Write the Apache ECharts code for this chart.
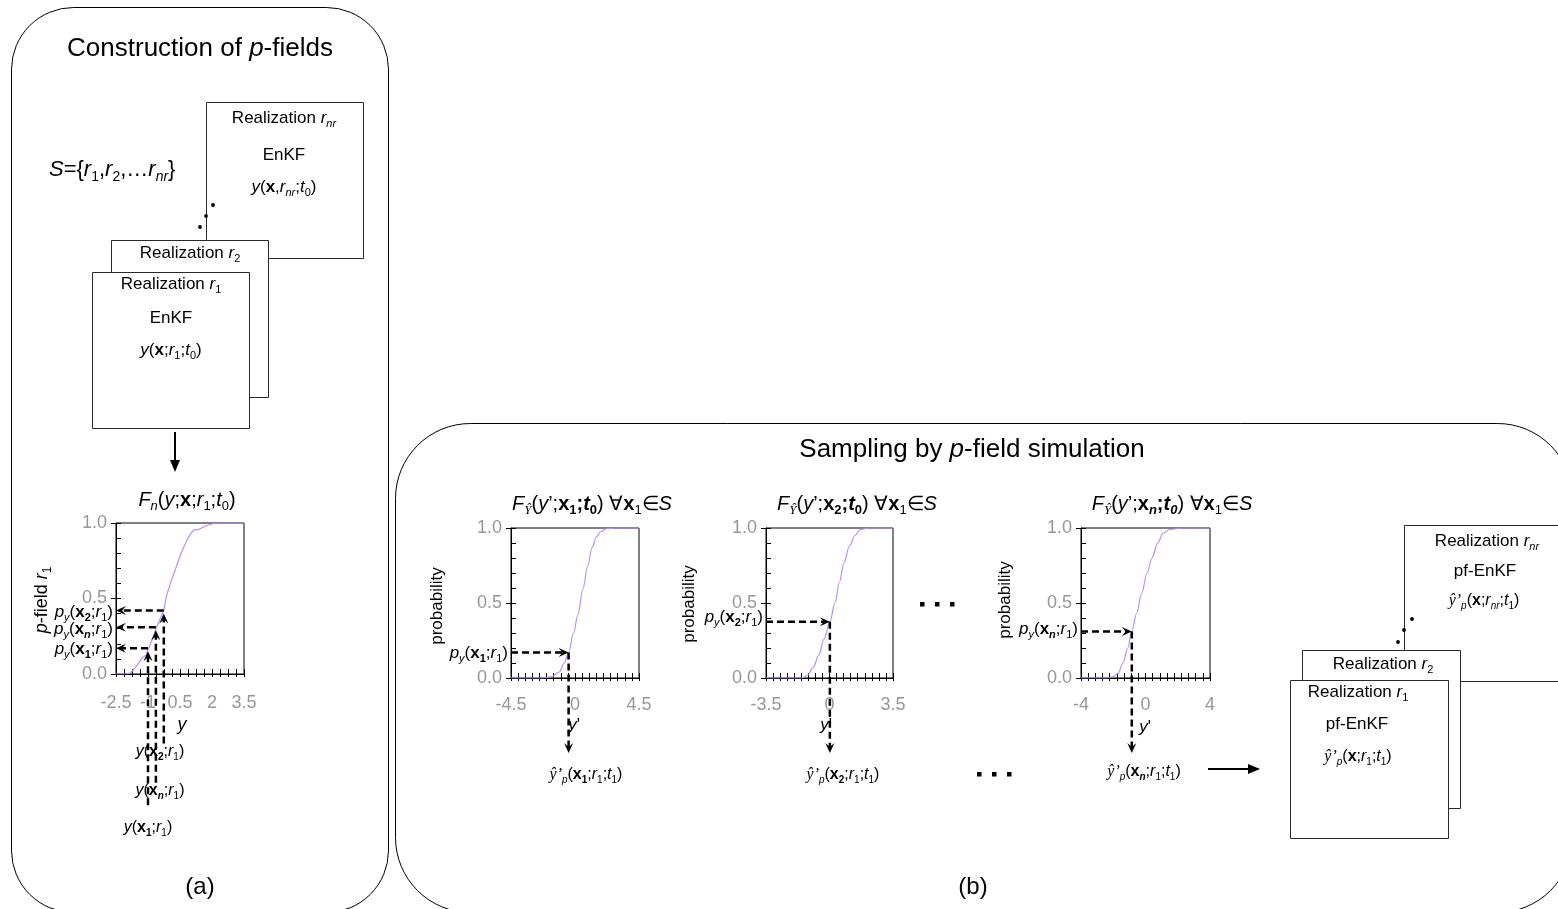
<!DOCTYPE html>
<html><head><meta charset="utf-8">
<script src="https://cdn.jsdelivr.net/npm/echarts@6/dist/echarts.min.js"></script>
<style>html,body{margin:0;padding:0;background:#fff}#c{width:1558px;height:909px}</style>
</head><body><div id="c"></div>
<script>
// ---------------- DATA ----------------
// (a) empirical CDF F_n(y;x;r1;t0)
const leftY = [-2.5,-1.95,-1.8,-1.6,-1.4,-1.25,-1.1,-1.0,-0.8,-0.63,-0.45,-0.26,-0.13,0.05,0.3,0.55,0.8,1.0,1.15,1.4,1.55,1.7,1.9,2.2,3.5];
const leftP = [0,0,0.01,0.04,0.08,0.11,0.125,0.16,0.23,0.30,0.36,0.42,0.52,0.6,0.7,0.8,0.88,0.93,0.955,0.958,0.97,0.98,0.99,1.0,1.0];
// (b) CDFs F_Y(y';x_i;t0)
const c1Y = [-4.5,-2.2,-1.6,-1.1,-0.75,-0.45,-0.1,0.2,0.55,0.9,1.2,1.5,1.8,2.2,2.9,4.5];
const c1P = [0,0,0.01,0.04,0.1,0.17,0.3,0.42,0.59,0.75,0.87,0.94,0.975,0.995,1,1];
const c2Y = [-3.5,-1.5,-1.2,-0.9,-0.6,-0.3,0.02,0.3,0.55,0.8,1.1,1.4,1.7,2.2,3.5];
const c2P = [0,0,0.02,0.07,0.15,0.26,0.375,0.5,0.64,0.77,0.88,0.95,0.99,1,1];
const c3Y = [-4,-2.4,-2.0,-1.7,-1.4,-1.1,-0.85,-0.55,-0.25,0.1,0.4,0.75,1.1,1.5,2.3,4];
const c3P = [0,0,0.01,0.03,0.1,0.2,0.31,0.43,0.56,0.7,0.8,0.9,0.965,0.99,1,1];
// tick labels
const leftTicks = [-2.5,-1,0.5,2,3.5];
const ticks1 = [-4.5,0,4.5];
const ticks2 = [-3.5,0,3.5];
const ticks3 = [-4,0,4];
const probTicks = [0,0.5,1];
// p-field lookups (a): y(x_i;r1) values and their probabilities
const leftArrowX = [-1.0,-0.63,-0.26];
const leftArrowP = [0.17,0.31,0.42];
const leftArrowFoot = [-0.87,-0.72,-0.46];
// p-field sampling (b): probability -> y'
const rightArrowX = [-0.45,0.02,-0.85];
const rightArrowP = [0.17,0.375,0.31];
const rightArrowFoot = -0.5;

// ---------------- STYLE ----------------
const FF = '"Liberation Sans", Arial, sans-serif';
const SERIF = '"Liberation Serif", "DejaVu Serif", serif';
const GRAY = '#979797';
const PURPLE = '#b590f4';

function rich(fs){
  const L = Math.round(fs*1.3), s = Math.round(fs*0.65);
  const base = {fontFamily: FF, fontSize: fs, lineHeight: L, fill:'#000'};
  const sub = {fontFamily: FF, fontSize: s, lineHeight: s, verticalAlign:'bottom', fill:'#000'};
  return {
    n: base,
    i: Object.assign({}, base, {fontStyle:'italic'}),
    b: Object.assign({}, base, {fontWeight:'bold'}),
    bi: Object.assign({}, base, {fontWeight:'bold', fontStyle:'italic'}),
    h: Object.assign({}, base, {fontFamily: SERIF, fontStyle:'italic'}),
    s: sub,
    si: Object.assign({}, sub, {fontStyle:'italic'}),
    sb: Object.assign({}, sub, {fontWeight:'bold'}),
    sbi: Object.assign({}, sub, {fontWeight:'bold', fontStyle:'italic'}),
    sh: Object.assign({}, sub, {fontFamily: SERIF, fontStyle:'italic'})
  };
}
function T(x, y, text, fs, align, rot){
  return {type:'text', x:x, y:y, rotation: rot||0, silent:true, z:20,
    style:{text:text, rich:rich(fs), fontFamily:FF, fontSize:fs, fill:'#000',
      align: align||'center', verticalAlign:'middle'}};
}
function box(x,y,w,h,fill){
  return {type:'rect', shape:{x:x+0.5,y:y+0.5,width:w,height:h}, style:{fill:fill||'#fff', stroke:'#2a2a2a', lineWidth:1}, silent:true, z:5};
}
function dot(cx,cy){ return {type:'circle', shape:{cx:cx,cy:cy,r:1.9}, style:{fill:'#000'}, silent:true, z:6}; }
function sq(x,y){ return {type:'rect', shape:{x:x,y:y,width:4.5,height:4.5}, style:{fill:'#000'}, silent:true, z:6}; }
function steps(a,b,n){ const out=[]; for(let k=0;k<=n;k++) out.push(a+(b-a)*k/n); return out; }

// ---------------- CHART DEFS ----------------
const charts = [
  {box:[116,523,128,151], min:-2.5, max:3.5, labels:leftTicks, minor:steps(-2.5,3.5,16), y:leftY, p:leftP, smooth:false, xMargin:20,
   arrows: leftArrowX.flatMap((x,i)=>[[x,leftArrowFoot[i],x,leftArrowP[i]-0.02],[x,leftArrowP[i],leftTicks[0],leftArrowP[i]]])},
  {box:[511,528,128,150], min:-4.5, max:4.5, labels:ticks1, minor:steps(-4.5,4.5,18), y:c1Y, p:c1P, smooth:0.35, xMargin:18,
   arrows:[[ticks1[0],rightArrowP[0],rightArrowX[0],rightArrowP[0]],[rightArrowX[0],rightArrowP[0],rightArrowX[0],rightArrowFoot]]},
  {box:[766,528,127,150], min:-3.5, max:3.5, labels:ticks2, minor:steps(-3.5,3.5,18), y:c2Y, p:c2P, smooth:0.35, xMargin:18,
   arrows:[[ticks2[0],rightArrowP[1],rightArrowX[1],rightArrowP[1]],[rightArrowX[1],rightArrowP[1],rightArrowX[1],rightArrowFoot]]},
  {box:[1081,528,129,150], min:-4, max:4, labels:ticks3, minor:steps(-4,4,18), y:c3Y, p:c3P, smooth:0.35, xMargin:18,
   arrows:[[ticks3[0],rightArrowP[2],rightArrowX[2],rightArrowP[2]],[rightArrowX[2],rightArrowP[2],rightArrowX[2],rightArrowFoot]]}
];

function renderArrow(params, api){
  const a = api.coord([api.value(0), api.value(1)]);
  const b = api.coord([api.value(2), api.value(3)]);
  const dx=b[0]-a[0], dy=b[1]-a[1], len=Math.hypot(dx,dy)||1;
  const ux=dx/len, uy=dy/len, nx=-uy, ny=ux;
  const L=10, W=4.5;
  const back=[b[0]-ux*L, b[1]-uy*L];
  const notch=[b[0]-ux*L*0.6, b[1]-uy*L*0.6];
  return {type:'group', children:[
    {type:'line', shape:{x1:a[0],y1:a[1],x2:notch[0],y2:notch[1]}, style:{stroke:'#000', lineWidth:2.5, lineDash:[7,4]}},
    {type:'polygon', shape:{points:[[b[0],b[1]],[back[0]+nx*W,back[1]+ny*W],notch,[back[0]-nx*W,back[1]-ny*W]]}, style:{fill:'#000'}}
  ]};
}

const grids=[], xAxes=[], yAxes=[], series=[];
charts.forEach((c,gi)=>{
  grids.push({left:c.box[0], top:c.box[1], width:c.box[2], height:c.box[3], show:true, borderColor:'#000', borderWidth:1,
    backgroundColor:'transparent', containLabel:false, outerBoundsMode:'none'});
  xAxes.push({gridIndex:gi, type:'value', position:'bottom', min:c.min, max:c.max,
    axisLine:{show:true, onZero:false, lineStyle:{color:'#000', width:1}},
    axisTick:{show:true, customValues:c.minor, inside:false, length:3, lineStyle:{color:'#000'}},
    axisLabel:{show:true, customValues:c.labels, color:GRAY, fontSize:18, fontFamily:FF, margin:c.xMargin},
    splitLine:{show:false}});
  xAxes.push({gridIndex:gi, type:'value', position:'bottom', min:c.min, max:c.max,
    axisLine:{show:false, onZero:false},
    axisTick:{show:true, customValues:c.minor, inside:true, length:5, lineStyle:{color:'#000'}},
    axisLabel:{show:false}, splitLine:{show:false}});
  yAxes.push({gridIndex:gi, type:'value', position:'left', min:0, max:1,
    axisLine:{show:true, onZero:false, lineStyle:{color:'#000', width:1}},
    axisTick:{show:true, customValues:probTicks, inside:false, length:5, lineStyle:{color:'#000'}},
    axisLabel:{show:true, customValues:probTicks, color:GRAY, fontSize:18, fontFamily:FF, margin:9, formatter:v=>Number(v).toFixed(1)},
    splitLine:{show:false}});
  yAxes.push({gridIndex:gi, type:'value', position:'left', min:0, max:1, interval:0.1,
    axisLine:{show:false, onZero:false},
    axisTick:{show:true, inside:true, length:5, lineStyle:{color:'#000'}},
    axisLabel:{show:false}, splitLine:{show:false}});
  series.push({type:'line', xAxisIndex:2*gi, yAxisIndex:2*gi, data:c.y.map((v,i)=>[v,c.p[i]]),
    showSymbol:false, symbol:'none', smooth:c.smooth, smoothMonotone:'x', silent:true, z:3,
    lineStyle:{color:PURPLE, width:1.2}});
  series.push({type:'custom', xAxisIndex:2*gi, yAxisIndex:2*gi, data:c.arrows, encode:{x:[0,2], y:[1,3]},
    renderItem:renderArrow, clip:false, silent:true, z:4});
});

// ---------------- GRAPHICS (frames, boxes, annotations) ----------------
const PI2 = Math.PI/2;
const pyx = (sub, subStyle) => '{i|p}{si|y}{n|(}{b|x}' + '{'+subStyle+'|'+sub+'}' + '{n|;}{i|r}{s|1}{n|)}';
const yx = (sub, subStyle) => '{i|y}{n|(}{b|x}' + '{'+subStyle+'|'+sub+'}' + '{n|;}{i|r}{s|1}{n|)}';
const yhat = (sub, subStyle) => '{h|ŷ’}{si|p}{n|(}{b|x}' + '{'+subStyle+'|'+sub+'}' + '{n|;}{i|r}{s|1}{n|;}{i|t}{s|1}{n|)}';
const ftitle = (sub, subStyle, tStyle) => '{i|F}{sh|Ŷ}{n|(}{i|y}{n|’;}{b|x}{'+subStyle+'|'+sub+'}{b|;}{bi|t}{'+tStyle+'|0}{n|) ∀}{b|x}{s|1}{n|∈}{i|S}';

const elements = [
  // panels
  {type:'rect', shape:{x:11.5,y:7.5,width:377,height:905,r:62}, style:{fill:'none', stroke:'#000', lineWidth:1}, silent:true, z:1},
  {type:'rect', shape:{x:395.5,y:423.5,width:1177,height:489,r:75}, style:{fill:'none', stroke:'#000', lineWidth:1}, silent:true, z:1},
  // (a) realization stack
  box(206,102,157,156), box(111,240,157,157), box(92,272,157,156),
  dot(200,227), dot(206,216), dot(213,205),
  T(284,118,'{n|Realization }{i|r}{si|nr}',17),
  T(284,155,'{n|EnKF}',17),
  T(284,187,'{i|y}{n|(}{b|x}{n|,}{i|r}{si|nr}{n|;}{i|t}{s|0}{n|)}',17),
  T(190,253,'{n|Realization }{i|r}{s|2}',17),
  T(171,284,'{n|Realization }{i|r}{s|1}',17),
  T(171,318,'{n|EnKF}',17),
  T(171,350,'{i|y}{n|(}{b|x}{n|;}{i|r}{s|1}{n|;}{i|t}{s|0}{n|)}',17),
  T(49,170,'{i|S}{n|={}{i|r}{s|1}{n|,}{i|r}{s|2}{n|,…}{i|r}{si|nr}{n|\u007d}',22,'left'),
  {type:'line', shape:{x1:175,y1:432,x2:175,y2:462}, style:{stroke:'#000', lineWidth:2}, silent:true, z:6},
  {type:'polygon', shape:{points:[[175,472],[170,460],[180,460]]}, style:{fill:'#000'}, silent:true, z:6},
  T(200,49,'{n|Construction of }{i|p}{n|-fields}',26),
  T(187,500,'{i|F}{si|n}{n|(}{i|y}{n|;}{b|x}{n|;}{i|r}{s|1}{n|;}{i|t}{s|0}{n|)}',20),
  T(42,600,'{i|p}{n|-field }{i|r}{s|1}',18,'center',PI2),
  T(113,612,pyx('2','sb'),17,'right'),
  T(113,629,pyx('n','sbi'),17,'right'),
  T(113,649,pyx('1','sb'),17,'right'),
  T(182,725,'{i|y}',18),
  T(160,752,yx('2','sb'),16),
  T(160,791,yx('n','sbi'),16),
  T(148,828,yx('1','sb'),16),
  T(200,887,'{n|(a)}',24),
  // (b)
  T(972,450,'{n|Sampling by }{i|p}{n|-field simulation}',26),
  T(592,504,ftitle('1','sb','sb'),20),
  T(857,504,ftitle('2','sb','sb'),20),
  T(1172,504,ftitle('n','sbi','sbi'),20),
  T(437,606,'{n|probability}',17,'center',PI2),
  T(689,604,'{n|probability}',17,'center',PI2),
  T(1005,600,'{n|probability}',17,'center',PI2),
  T(508,653,pyx('1','sb'),17,'right'),
  T(763,617,pyx('2','sb'),17,'right'),
  T(1078,629,pyx('n','sbi'),17,'right'),
  T(574,725,'{i|y}{n|\'}',17),
  T(826,725,'{i|y}{n|\'}',17),
  T(1145,727,'{i|y}{n|\'}',17),
  T(586,775,yhat('1','sb'),16),
  T(843,775,yhat('2','sb'),16),
  T(1144,772,yhat('n','sbi'),16),
  sq(920,602), sq(935,602), sq(950,602),
  sq(977,772), sq(992,772), sq(1007,772),
  {type:'line', shape:{x1:1208,y1:769,x2:1250,y2:769}, style:{stroke:'#000', lineWidth:2}, silent:true, z:6},
  {type:'polygon', shape:{points:[[1260,769],[1248,764],[1248,774]]}, style:{fill:'#000'}, silent:true, z:6},
  box(1404,525,157,156), box(1302,650,158,158), box(1290,680,158,158),
  dot(1398,642), dot(1404,630), dot(1412,619),
  T(1487,541,'{n|Realization }{i|r}{si|nr}',17),
  T(1485,571,'{n|pf-EnKF}',17),
  T(1484,601,'{h|ŷ’}{si|p}{n|(}{b|x}{n|;}{i|r}{si|nr}{n|;}{i|t}{s|1}{n|)}',16),
  T(1383,664,'{n|Realization }{i|r}{s|2}',17),
  T(1358,692,'{n|Realization }{i|r}{s|1}',17),
  T(1357,724,'{n|pf-EnKF}',17),
  T(1358,757,'{h|ŷ’}{si|p}{n|(}{b|x}{n|;}{i|r}{s|1}{n|;}{i|t}{s|1}{n|)}',16),
  T(973,887,'{n|(b)}',24)
];

const chart = echarts.init(document.getElementById('c'), null, {renderer:'canvas'});
chart.setOption({
  animation:false,
  backgroundColor:'#fff',
  grid:grids, xAxis:xAxes, yAxis:yAxes, series:series,
  graphic:{elements:elements}
});
</script>
</body></html>
